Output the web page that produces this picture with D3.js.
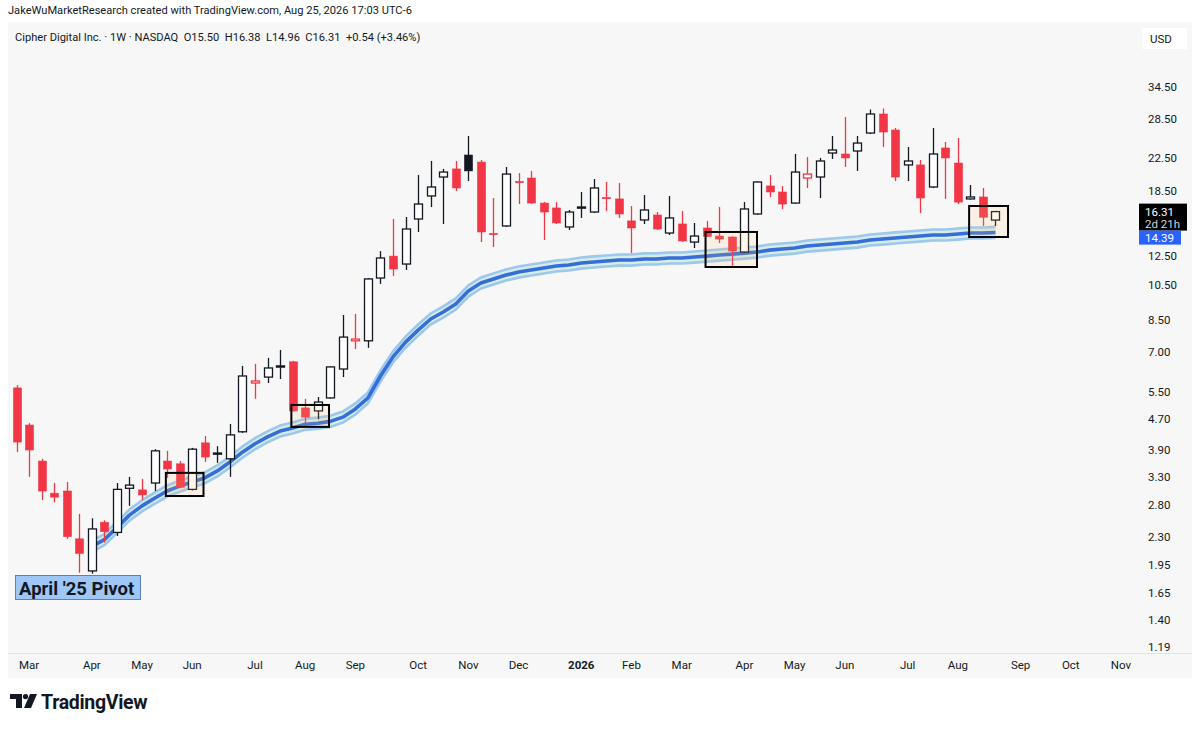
<!DOCTYPE html>
<html>
<head>
<meta charset="utf-8">
<script src="https://cdn.jsdelivr.net/npm/d3@7/dist/d3.min.js"></script>
<style>

html, body {
  width: 100%;
  height: 100%;
  overflow: hidden;
  margin: 0;
  padding: 0;
  background: #fff;
}

text {
  font-family: Roboto, "Noto Sans", sans-serif;
  fill: #131722;
}

</style>
</head>
<body>
<script>

// weekly candles, first bar is the week of Mon 2025-02-24
var firstWeek = '2025-02-24';

var opens  = [5.65, 4.52, 3.64, 3.00, 3.04, 2.28, 1.88, 2.52, 2.37, 3.09,
              3.06, 3.19, 3.64, 3.58, 3.07, 4.06, 3.80, 3.69, 4.34, 5.82,
              6.03, 6.42, 6.61, 5.01, 4.92, 5.32, 6.33, 7.50, 7.50, 10.94,
              12.48, 11.90, 15.60, 17.92, 20.08, 21.08, 22.92, 21.97, 14.30, 14.96,
              19.55, 19.96, 17.17, 16.67, 14.87, 16.70, 16.27, 17.75, 17.60, 15.42,
              15.51, 15.98, 14.34, 15.14, 13.58, 14.78, 14.08, 14.00, 12.79, 16.08,
              19.03, 18.35, 17.17, 19.96, 20.08, 23.20, 23.06, 23.48, 26.16, 29.33,
              26.64, 21.59, 21.59, 18.91, 23.91, 21.84, 17.60, 17.81, 15.50];
var highs  = [5.75, 4.57, 3.69, 3.19, 3.21, 2.65, 2.58, 2.55, 3.19, 3.31,
              3.27, 3.91, 3.87, 3.64, 3.94, 4.23, 3.98, 4.55, 6.45, 6.53,
              6.77, 7.10, 6.65, 5.29, 5.35, 6.43, 8.76, 8.82, 10.94, 12.86,
              15.60, 15.79, 20.32, 22.11, 21.08, 22.11, 25.70, 22.24, 17.70, 21.33,
              20.56, 20.83, 17.27, 17.27, 16.47, 18.35, 19.84, 19.49, 19.37, 16.87,
              18.02, 16.27, 17.92, 16.37, 15.23, 15.42, 16.77, 14.05, 17.27, 19.55,
              20.32, 19.03, 23.06, 22.65, 22.52, 25.70, 28.81, 25.70, 30.13, 30.31,
              26.96, 24.05, 22.24, 26.96, 24.78, 25.39, 19.14, 18.80, 16.38];
var lows   = [3.84, 3.31, 2.88, 2.84, 2.28, 1.86, 1.85, 2.23, 2.32, 2.78,
              2.88, 3.04, 3.29, 3.09, 3.05, 3.62, 3.60, 3.31, 4.31, 5.29,
              5.82, 5.96, 4.90, 4.57, 4.68, 5.30, 6.03, 7.14, 7.19, 10.56,
              11.08, 11.48, 14.43, 16.77, 15.14, 18.47, 19.60, 13.58, 13.18, 14.87,
              17.07, 17.10, 13.75, 15.14, 14.60, 15.70, 16.17, 16.37, 15.70, 12.71,
              15.14, 14.60, 14.17, 13.60, 13.10, 14.00, 13.50, 11.69, 12.75, 16.00,
              17.81, 16.57, 17.10, 18.80, 17.70, 22.38, 21.33, 20.83, 26.00, 24.05,
              19.60, 19.60, 16.17, 18.80, 17.60, 17.07, 17.55, 14.96, 14.96];
var closes = [4.08, 3.89, 3.04, 2.93, 2.31, 2.09, 2.42, 2.38, 3.07, 3.15,
              2.97, 3.87, 3.47, 3.11, 3.91, 3.73, 3.82, 4.26, 6.07, 5.89,
              6.37, 6.45, 4.92, 4.74, 5.19, 6.41, 7.67, 7.58, 10.88, 12.34,
              11.55, 14.69, 17.07, 18.91, 20.69, 18.80, 20.83, 14.43, 14.25, 20.44,
              19.49, 17.17, 16.27, 15.23, 16.27, 16.77, 18.80, 17.70, 16.08, 14.78,
              16.47, 14.69, 15.70, 13.67, 14.08, 14.05, 13.83, 12.87, 16.57, 19.49,
              18.35, 17.07, 20.69, 20.44, 22.11, 23.62, 22.52, 24.63, 29.33, 26.32,
              20.08, 22.11, 17.70, 23.06, 22.52, 17.27, 17.81, 15.77, 16.31];

// moving average ribbon, starts at the 7th weekly bar
var emaStart = 6;
var ema = [2.18, 2.27, 2.44, 2.63, 2.78, 2.91, 3.04, 3.13, 3.21, 3.29,
           3.43, 3.62, 3.84, 4.04, 4.21, 4.36, 4.44, 4.54, 4.57, 4.62,
           4.74, 4.98, 5.32, 6.07, 6.81, 7.44, 8.00, 8.55, 8.92, 9.36,
           10.12, 10.62, 10.88, 11.14, 11.34, 11.48, 11.62, 11.76, 11.83, 11.97,
           12.05, 12.12, 12.19, 12.19, 12.27, 12.27, 12.34, 12.34, 12.41, 12.48,
           12.56, 12.63, 12.71, 12.79, 12.94, 13.02, 13.10, 13.26, 13.34, 13.42,
           13.50, 13.58, 13.75, 13.83, 13.92, 14.00, 14.08, 14.17, 14.17, 14.25,
           14.34, 14.34, 14.39];
var bandRatio = 1.034;

var priceTicks = [34.5, 28.5, 22.5, 18.5, 12.5, 10.5, 8.5, 7, 5.5, 4.7,
                  3.9, 3.3, 2.8, 2.3, 1.95, 1.65, 1.4, 1.19];

// highlighted boxes: week offsets (fractional) and price bounds
var boxFrom   = [11.9, 21.9, 54.9, 75.9];
var boxTo     = [14.9, 24.9, 59.0, 79.0];
var boxTop    = [3.39, 5.10, 14.43, 16.87];
var boxBottom = [2.95, 4.47, 11.69, 14.00];

var w = 1200,
    h = 729,
    red = '#f23645',
    dark = '#131722';

var svg = d3.select('body').append('svg')
  .attr('width', w)
  .attr('height', h);

var t0 = d3.isoParse(firstWeek + 'T00:00:00');
var tEnd = d3.timeWeek.offset(t0, closes.length - 1);
var weekPx = 12.551;

var x = d3.scaleTime()
  .domain([t0, tEnd])
  .range([16.5, 16.5 + weekPx * (closes.length - 1)]);

var y = d3.scaleLog()
  .domain([34.5, 1.19])
  .range([87, 647]);

function xw(k) { return x(t0) + k * weekPx; }

// chart panel
svg.append('rect')
  .attr('x', 8).attr('y', 22)
  .attr('width', 1184).attr('height', 656)
  .attr('fill', '#f7f7f7');

svg.append('line')
  .attr('x1', 8).attr('x2', 1192)
  .attr('y1', 653.5).attr('y2', 653.5)
  .attr('stroke', '#e3e3e3');

svg.append('text')
  .attr('x', 8).attr('y', 14)
  .style('font-size', '11.1px')
  .text('JakeWuMarketResearch created with TradingView.com, Aug 25, 2026 17:03 UTC-6');

var last = closes.length - 1,
    fmt = d3.format('.2f');
svg.append('text')
  .attr('x', 15).attr('y', 41)
  .style('font-size', '11.1px')
  .attr('xml:space', 'preserve')
  .text('Cipher Digital Inc. \u00b7 1W \u00b7 NASDAQ  O' + fmt(opens[last]) +
        '  H' + fmt(highs[last]) + '  L' + fmt(lows[last]) +
        '  C' + fmt(closes[last]) + '  +0.54 (+3.46%)');

// USD badge
svg.append('rect')
  .attr('x', 1142).attr('y', 28)
  .attr('width', 45).attr('height', 21)
  .attr('fill', '#fff');
svg.append('text')
  .attr('x', 1161).attr('y', 42.5)
  .attr('text-anchor', 'middle')
  .style('font-size', '11.5px')
  .text('USD');

// price axis labels
svg.append('g').selectAll('text')
  .data(priceTicks)
  .enter().append('text')
    .attr('x', 1148)
    .attr('y', function(d) { return y(d) + 4; })
    .style('font-size', '11.5px')
    .text(function(d) { return fmt(d); });

// month labels on the time axis
var months = d3.timeMonth.range(d3.timeMonth.ceil(t0), new Date(2026, 10, 2));
svg.append('g').selectAll('text')
  .data(months)
  .enter().append('text')
    .attr('x', function(d) { return x(d3.timeMonday.ceil(d)); })
    .attr('y', 669)
    .attr('text-anchor', 'middle')
    .style('font-size', '11.5px')
    .style('font-weight', function(d) { return d.getMonth() === 0 ? 'bold' : 'normal'; })
    .text(function(d) { return d.getMonth() === 0 ? d3.timeFormat('%Y')(d) : d3.timeFormat('%b')(d); });

// ribbon
var emaPts = ema.map(function(v, k) {
  return { t: d3.timeWeek.offset(t0, emaStart + k), v: v };
});

svg.append('path')
  .datum(emaPts)
  .attr('fill', '#d6ece6')
  .attr('d', d3.area()
    .x(function(d) { return x(d.t); })
    .y0(function(d) { return y(d.v / bandRatio); })
    .y1(function(d) { return y(d.v * bandRatio); }));

[bandRatio, 1 / bandRatio].forEach(function(r) {
  svg.append('path')
    .datum(emaPts)
    .attr('fill', 'none')
    .attr('stroke', '#9cc8ee')
    .attr('stroke-width', 2.6)
    .attr('d', d3.line()
      .x(function(d) { return x(d.t); })
      .y(function(d) { return y(d.v * r); }));
});

svg.append('path')
  .datum(emaPts)
  .attr('fill', 'none')
  .attr('stroke', '#356ed8')
  .attr('stroke-width', 3.6)
  .attr('stroke-linejoin', 'round')
  .attr('d', d3.line()
    .x(function(d) { return x(d.t); })
    .y(function(d) { return y(d.v); }));

// candles
var bars = closes.map(function(c, i) {
  var o = opens[i],
      pc = i ? closes[i - 1] : Infinity;
  return {
    t: d3.timeWeek.offset(t0, i),
    o: o, h: highs[i], l: lows[i], c: c,
    col: (i === 0 || c < pc) ? red : dark,
    hollow: c > o
  };
});

var candle = svg.append('g').selectAll('g')
  .data(bars)
  .enter().append('g');

candle.append('line')
  .attr('x1', function(d) { return Math.round(x(d.t)) + 0.5; })
  .attr('x2', function(d) { return Math.round(x(d.t)) + 0.5; })
  .attr('y1', function(d) { return y(d.h); })
  .attr('y2', function(d) { return y(d.l); })
  .attr('stroke', function(d) { return d.col; })
  .attr('stroke-width', 1.3);

candle.append('rect')
  .attr('x', function(d) { return Math.round(x(d.t)) - 3.5; })
  .attr('width', 8)
  .attr('y', function(d) { return y(Math.max(d.o, d.c)); })
  .attr('height', function(d) { return Math.max(1.2, Math.abs(y(d.o) - y(d.c))); })
  .attr('fill', function(d) { return d.hollow ? '#fff' : d.col; })
  .attr('stroke', function(d) { return d.col; })
  .attr('stroke-width', function(d) { return d.hollow ? 1.3 : 0.6; });

// boxes
svg.append('g').selectAll('rect')
  .data(boxFrom)
  .enter().append('rect')
    .attr('x', function(d) { return xw(d); })
    .attr('width', function(d, k) { return xw(boxTo[k]) - xw(d); })
    .attr('y', function(d, k) { return y(boxTop[k]); })
    .attr('height', function(d, k) { return y(boxBottom[k]) - y(boxTop[k]); })
    .attr('fill', 'rgba(255, 190, 120, 0.14)')
    .attr('stroke', '#000')
    .attr('stroke-width', 2);

// pivot label
svg.append('rect')
  .attr('x', 15.5).attr('y', 575.5)
  .attr('width', 125).attr('height', 24)
  .attr('fill', '#9ec6f6')
  .attr('stroke', '#5b82b8');
svg.append('text')
  .attr('x', 19).attr('y', 594.5)
  .style('font-size', '18.5px')
  .style('font-weight', 'bold')
  .text("April '25 Pivot");

// last price and average badges
var yc = y(closes[last]);
svg.append('rect')
  .attr('x', 1139).attr('y', yc - 8)
  .attr('width', 48).attr('height', 27)
  .attr('fill', '#000');
svg.append('text')
  .attr('x', 1145).attr('y', yc + 4)
  .style('font-size', '11.5px')
  .style('fill', '#fff')
  .text(fmt(closes[last]));
svg.append('text')
  .attr('x', 1145).attr('y', yc + 16)
  .style('font-size', '11.5px')
  .style('fill', '#d1d4dc')
  .text('2d 21h');

svg.append('rect')
  .attr('x', 1139).attr('y', yc + 19)
  .attr('width', 42).attr('height', 14)
  .attr('fill', '#2962ff');
svg.append('text')
  .attr('x', 1145).attr('y', yc + 30)
  .style('font-size', '11.5px')
  .style('fill', '#fff')
  .text(fmt(ema[ema.length - 1]));

// TradingView logo
var logo = svg.append('g').attr('transform', 'translate(10,694)');
logo.append('path')
  .attr('d', 'M0,0 H12 V14 H6 V5 H0 Z')
  .attr('fill', '#131722');
logo.append('circle')
  .attr('cx', 15.5).attr('cy', 2.6).attr('r', 2.6)
  .attr('fill', '#131722');
logo.append('path')
  .attr('d', 'M20,0 H27 L21,14 H14 Z')
  .attr('fill', '#131722');
svg.append('text')
  .attr('x', 41).attr('y', 709)
  .style('font-size', '19.5px')
  .style('font-weight', 'bold')
  .style('letter-spacing', '-0.3px')
  .text('TradingView');

</script>
</body>
</html>
